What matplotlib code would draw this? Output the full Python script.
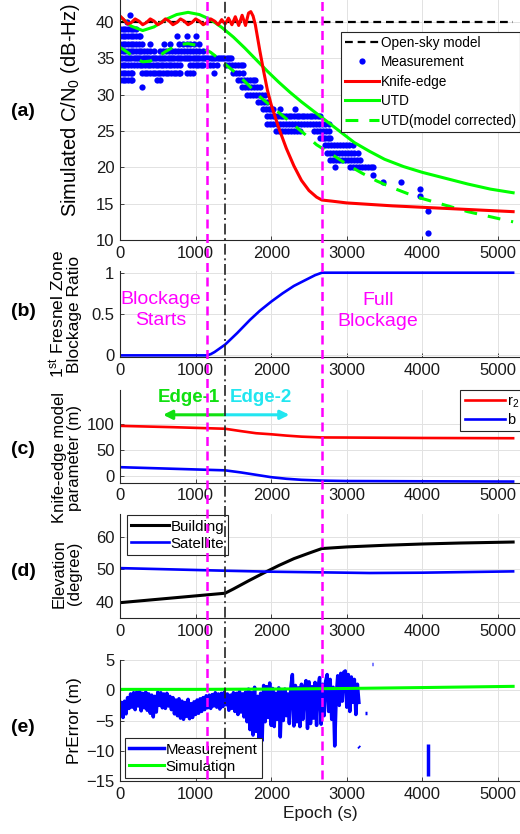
import numpy as np
import matplotlib
matplotlib.use("Agg")
import matplotlib.pyplot as plt
from matplotlib.lines import Line2D
from matplotlib.transforms import blended_transform_factory

plt.rcParams["font.family"] = ["Liberation Sans", "DejaVu Sans"]
plt.rcParams["mathtext.default"] = "regular"

# ---------------- data ----------------
epoch_ticks = [0, 1000, 2000, 3000, 4000, 5000]
blockage_start = 1150
edge_switch = 1390
full_blockage = 2670

# (a) C/N0
open_sky_epoch = [0, 5200]
open_sky_cn0 = [40, 40]

ke_epoch = [0, 50, 100, 150, 200, 250, 300, 350, 400, 450, 500, 550, 600, 650,
            700, 750, 800, 850, 900, 950, 1000, 1050, 1100, 1150, 1200, 1250, 1300,
            1345, 1390, 1435, 1480, 1525, 1570, 1615, 1660, 1700, 1730, 1760,
            1790, 1820, 1850, 1900, 1950, 2000, 2050, 2100,
            2200, 2300, 2400, 2500, 2600, 2670,
            2800, 3000, 3300, 3600, 4000, 4400, 4800, 5200]
ke_cn0 = [40.8, 40.3, 39.7, 39.9, 40.4, 40.1, 39.6, 39.9, 40.4, 40.1, 39.6, 39.9, 40.4, 40.1,
          39.6, 39.9, 40.4, 40.1, 39.6, 39.9, 40.4, 40.1, 39.6, 39.9, 40.4, 40.1, 39.6,
          40.3, 39.7, 40.5, 39.6, 40.7, 39.5, 40.9, 39.5, 41.2, 41.4, 40.8,
          39.6, 37.8, 36.0, 33.2, 30.6, 28.6, 27.0, 25.4,
          22.6, 20.2, 18.2, 16.8, 15.9, 15.5,
          15.35, 15.1, 14.9, 14.7, 14.5, 14.3, 14.1, 13.9]

utd_epoch = [0, 150, 300, 450, 600, 750, 900, 1050, 1200, 1350, 1500, 1650, 1800, 1950,
             2100, 2250, 2400, 2550, 2700, 2900, 3100, 3300, 3500, 3750, 4000, 4300,
             4600, 4900, 5200]
utd_cn0 = [40.7, 39.4, 38.8, 39.3, 40.3, 41.0, 41.3, 41.0, 40.3, 39.2, 37.9, 36.4, 34.8, 33.2,
           31.7, 30.3, 29.0, 27.8, 26.6, 25.0, 23.4, 22.2, 21.1, 20.1, 19.3, 18.5,
           17.7, 17.0, 16.5]

utdc_epoch = [0, 100, 200, 300, 400, 500, 600, 700, 800, 900, 1000, 1100, 1200, 1300, 1400,
              1550, 1700, 1850, 2000, 2150, 2300, 2450, 2600,
              2800, 3000, 3200, 3400, 3600, 3800, 4000, 4300, 4600, 4900, 5200]
utdc_cn0 = [36.5, 35.8, 35.0, 34.5, 34.6, 35.2, 35.9, 36.5, 36.9, 37.0, 36.8, 36.4, 35.8, 35.0, 34.1,
            32.8, 31.3, 29.7, 28.4, 27.1, 25.8, 24.5, 23.1,
            21.8, 20.4, 19.2, 18.1, 17.2, 16.4, 15.7, 14.8, 13.9, 13.2, 12.5]

# measured C/N0 (integer dB-Hz levels) -> epochs where a dot is seen
meas_levels = [41, 40, 39, 38, 37, 36, 35, 34, 33, 32, 31, 30, 29, 28, 27, 26, 25, 24,
               23, 22, 21, 20, 19, 18, 17, 16, 14, 11]
meas_epochs = [
    [130],
    [90],
    [0, 35, 70, 105, 140, 175, 210],
    [0, 35, 70, 105, 140, 175, 210, 245, 270, 750, 880, 1010],
    [0, 35, 70, 105, 140, 175, 210, 245, 290, 400, 580, 660, 780, 830, 880, 930, 980, 1040],
    [0, 35, 70, 105, 140, 175, 210, 245, 280, 320, 360, 400, 450, 530, 570, 610, 650, 690,
     730, 770, 810, 850, 890, 930, 970, 1010, 1050, 1100],
    [0, 30, 60, 90, 120, 150, 180, 210, 240, 270, 300, 330, 360, 390, 420, 450, 480, 510,
     540, 570, 600, 630, 660, 690, 720, 750, 780, 810, 840, 870, 900, 930, 960, 990, 1020,
     1050, 1080, 1110, 1140, 1170, 1200, 1230, 1260, 1290, 1320, 1350, 1380, 1410, 1440, 1470],
    [0, 35, 70, 105, 140, 180, 225, 260, 295, 330, 365, 400, 435, 470, 505, 540, 575, 610,
     645, 680, 715, 750, 800, 930, 965, 1000, 1035, 1070, 1100, 1190, 1230, 1280, 1400,
     1440, 1480, 1520, 1560, 1600, 1630],
    [0, 35, 70, 105, 140, 160, 290, 325, 360, 395, 430, 465, 500, 535, 570, 605, 640, 675,
     710, 745, 780, 800, 880, 920, 970, 1240, 1500, 1540, 1580, 1630],
    [0, 35, 70, 105, 140, 160, 490, 530, 1565, 1600, 1640, 1680, 1720, 1760, 1785],
    [290, 1610, 1650, 1690, 1730, 1770, 1810, 1850],
    [1675, 1715, 1755, 1795, 1835, 1875, 1917],
    [1830, 1870, 1905, 1940],
    [1896, 1930, 1965, 2000, 2028, 2116, 2315],
    [1950, 1985, 2020, 2055, 2090, 2125, 2160, 2195, 2230, 2265, 2300, 2335, 2370, 2405,
     2440, 2475, 2510, 2545, 2580, 2615, 2650],
    [1950, 1990, 2030, 2070, 2110, 2150, 2190, 2230, 2270, 2310, 2350, 2390, 2430, 2470,
     2510, 2550, 2590, 2630, 2670, 2710, 2760],
    [2060, 2100, 2140, 2180, 2220, 2260, 2300, 2340, 2380, 2560, 2600, 2640, 2680, 2720, 2770],
    [2645, 2680, 2715, 2750, 2778],
    [2712, 2750, 2790, 2830, 2870, 2910, 2950, 2990, 3030, 3086],
    [2734, 2775, 2815, 2855, 2895, 2935, 2975, 3015, 3055, 3095, 3153],
    [2778, 2820, 2860, 2900, 2940, 2980, 3020, 3060, 3100, 3140, 3175],
    [2844, 3042, 3080, 3120, 3160, 3200, 3240, 3280, 3320, 3351],
    [3351],
    [3483, 3712],
    [3968],
    [3968],
    [4070],
    [4070],
]

# (b) blockage ratio
ratio_epoch = [0, 1150, 1200, 1250, 1390, 1550, 1720, 1850, 2000, 2150, 2300, 2450, 2580, 2670, 5200]
ratio = [0, 0, 0.015, 0.04, 0.13, 0.27, 0.43, 0.54, 0.65, 0.75, 0.84, 0.91, 0.97, 1.0, 1.0]

# (c) knife-edge parameters
param_epoch = [0, 700, 1390, 1600, 1800, 2000, 2200, 2400, 2670, 3000, 4000, 5200]
r2 = [96, 93.5, 90.5, 86, 82, 80, 77.5, 75.5, 74, 73.8, 73, 72.5]
b_param = [17.5, 14.5, 11.5, 7.5, 3, -1.5, -4.5, -6.5, -8, -8.8, -9.3, -9.8]

# (d) elevation
bld_epoch = [0, 1390, 1500, 1700, 1900, 2100, 2300, 2500, 2670, 3000, 3500, 4000, 4500, 5200]
bld_elev = [39.8, 42.7, 44.0, 46.5, 48.9, 51.2, 53.3, 55.0, 56.4, 56.9, 57.4, 57.8, 58.1, 58.4]
sat_epoch = [0, 700, 1390, 2000, 2670, 3300, 4000, 4600, 5200]
sat_elev = [50.4, 50.0, 49.6, 49.3, 49.1, 48.9, 49.0, 49.2, 49.4]

# (e) pseudorange error, measurement sampled every 20 s up to 3160 s
pr_epoch = np.arange(0, 3161, 20)
pr_meas = [
    -3.8, -2.0, -4.5, -1.8, -3.9, -1.2, -3.0, -0.6, -2.8, -0.4,
    -3.2, -0.3, -2.6, -0.2, -3.4, -0.5, -2.9, -0.3, -3.3, -0.6,
    -3.8, -0.8, -4.4, -1.0, -3.6, -0.3, -2.5, -0.4, -2.9, -0.6,
    -3.0, -0.5, -2.6, -1.0, -3.2, -1.2, -3.9, -1.6, -4.2, -1.4,
    -4.6, -1.8, -4.8, -2.0, -4.3, -1.5, -4.7, -2.2, -4.5, -1.9,
    -4.0, -1.6, -3.8, -1.4, -3.5, -1.2, -3.2, -0.9, -2.9, -0.8,
    -3.0, -0.7, -2.6, -0.4, -2.8, -0.6, -3.1, -0.5, -2.7, -0.3,
    -2.4, -0.6, -3.3, -0.8, -3.0, -0.4, -3.5, -0.5, -4.0, -0.2,
    -3.6, -0.6, -4.4, -0.3, -5.2, 0.2, -6.5, -0.4, -7.4, 0.5,
    -6.8, -1.0, -7.9, -0.5, -8.3, 0.8, -5.2, 0.6, -4.5, 1.2,
    -5.8, 0.3, -6.0, -0.5, -4.8, 0.4, -7.7, -0.2, -5.0, 0.2,
    -4.2, -0.6, -5.5, 0.5, 2.6, -5.9, 0.8, -5.2, 0.4, -6.0,
    1.0, -4.8, 0.2, 1.6, -6.3, 1.4, -5.5, 0.6, -4.6, 1.3,
    -5.8, 0.5, 2.1, -5.6, 1.0, -4.2, 1.5, 2.6, -3.5, 1.8,
    -4.8, 0.5, -9.2, -1.0, 2.4, -2.5, 2.8, -1.8, 3.0, 3.2,
    -2.8, 2.6, -3.5, 2.2, -2.0, 1.8, -4.0, 1.0, -2.0,
]
# short isolated pieces of the measurement after the main run
pr_bits_epoch = [[3155, 3172], [3245, 3262], [3335, 3350], [4069, 4069]]
pr_bits_val = [[-9.3, -9.5], [-3.7, -3.7], [4.3, 4.3], [-8.8, -14.2]]

sim_epoch = [0, 1000, 2000, 3000, 4000, 5200]
sim_err = [0.15, 0.15, 0.2, 0.3, 0.45, 0.65]

# ---------------- figure ----------------
BLUE, RED, GREEN, MAG = "#0000FF", "#FF0000", "#00FF00", "#FF00FF"
AXC = "#262626"

fig = plt.figure(figsize=(5.2, 8.34), dpi=100)
left, width = 0.2308, 0.7705
ax_a = fig.add_axes([left, 0.7122, width, 0.2878])
ax_b = fig.add_axes([left, 0.5719, width, 0.1031])
ax_c = fig.add_axes([left, 0.4212, width, 0.1111])
ax_d = fig.add_axes([left, 0.2586, width, 0.1251])
ax_e = fig.add_axes([left, 0.0635, width, 0.1451])


def style(ax):
    ax.set_xlim(0, 5300)
    ax.set_xticks(epoch_ticks)
    ax.grid(True, color="#E2E2E2", lw=0.7)
    ax.set_axisbelow(True)
    for s in ("top", "right"):
        ax.spines[s].set_visible(False)
    for s in ("left", "bottom"):
        ax.spines[s].set_color(AXC)
        ax.spines[s].set_linewidth(0.8)
    ax.tick_params(direction="in", length=3, width=0.6, labelsize=12,
                   colors=AXC, labelcolor="#1A1A1A", pad=4)


def legend(ax, **kw):
    leg = ax.legend(frameon=True, fancybox=False, framealpha=1, edgecolor=AXC,
                    borderpad=0.3, handletextpad=0.1, borderaxespad=0, **kw)
    leg.get_frame().set_linewidth(0.8)
    return leg


# (a)
style(ax_a)
m_x, m_y = [], []
for lvl, eps in zip(meas_levels, meas_epochs):
    m_x += eps
    m_y += [lvl] * len(eps)
h_meas, = ax_a.plot(m_x, m_y, "o", color=BLUE, ms=4.5, mew=0, label="Measurement")
h_sky, = ax_a.plot(open_sky_epoch, open_sky_cn0, color="black", lw=1.6,
                   dashes=(3.5, 2.2), label="Open-sky model")
h_utd, = ax_a.plot(utd_epoch, utd_cn0, color=GREEN, lw=2.2, label="UTD")
h_utdc, = ax_a.plot(utdc_epoch, utdc_cn0, color=GREEN, lw=2.2, dashes=(4.2, 3.6),
                    label="UTD(model corrected)")
h_ke, = ax_a.plot(ke_epoch, ke_cn0, color=RED, lw=2.2, label="Knife-edge")
ax_a.set_ylim(10, 43)
ax_a.set_yticks([10, 15, 20, 25, 30, 35, 40])
ax_a.set_ylabel("Simulated C/N$_0$ (dB-Hz)", fontsize=14.5)
ax_a.yaxis.set_label_coords(-0.095, 0.54)
legend(ax_a, handles=[h_sky, h_meas, h_ke, h_utd, h_utdc], loc="upper right",
       bbox_to_anchor=(0.998, 0.868), fontsize=9.8, handlelength=2.5, labelspacing=0.4)

# (b)
style(ax_b)
ax_b.plot(ratio_epoch, ratio, color=BLUE, lw=1.9)
ax_b.set_ylim(-0.02, 1.02)
ax_b.set_yticks([0, 0.5, 1])
ax_b.set_yticklabels(["0", "0.5", "1"])
ax_b.set_ylabel("1$^{st}$ Fresnel Zone\nBlockage Ratio", fontsize=12.5, linespacing=1.0)
ax_b.yaxis.set_label_coords(-0.095, 0.5)
ax_b.text(540, 0.545, "Blockage\nStarts", color=MAG, fontsize=14, ha="center",
          va="center", linespacing=1.3)
ax_b.text(3414, 0.535, "Full\nBlockage", color=MAG, fontsize=14, ha="center",
          va="center", linespacing=1.3)

# (c)
style(ax_c)
ax_c.plot(param_epoch, r2, color=RED, lw=1.9, label="r$_2$")
ax_c.plot(param_epoch, b_param, color=BLUE, lw=1.9, label="b")
ax_c.set_ylim(-12, 164)
ax_c.set_yticks([0, 50, 100])
ax_c.set_ylabel("Knife-edge model\nparameter (m)", fontsize=12, linespacing=1.0)
ax_c.yaxis.set_label_coords(-0.095, 0.27)
legend(ax_c, loc="upper left", bbox_to_anchor=(0.849, 1.0), fontsize=10.5,
       handlelength=2.8, labelspacing=0.2)
ax_c.annotate("", xy=(570, 117), xytext=(edge_switch, 117),
              arrowprops=dict(arrowstyle="-|>", color="#11E011", lw=2.2,
                              mutation_scale=13, shrinkA=0, shrinkB=0))
ax_c.annotate("", xy=(2240, 117), xytext=(edge_switch, 117),
              arrowprops=dict(arrowstyle="-|>", color="#22E6F0", lw=2.2,
                              mutation_scale=13, shrinkA=0, shrinkB=0))
ax_c.text(914, 150, "Edge-1", color="#11E011", fontsize=13.5, fontweight="bold",
          ha="center", va="center")
ax_c.text(1865, 150, "Edge-2", color="#22E6F0", fontsize=13.5, fontweight="bold",
          ha="center", va="center")

# (d)
style(ax_d)
ax_d.plot(bld_epoch, bld_elev, color="black", lw=2.2, label="Building")
ax_d.plot(sat_epoch, sat_elev, color=BLUE, lw=1.9, label="Satellite")
ax_d.set_ylim(35, 67)
ax_d.set_yticks([40, 50, 60])
ax_d.set_ylabel("Elevation\n(degree)", fontsize=12, linespacing=1.0)
ax_d.yaxis.set_label_coords(-0.095, 0.43)
legend(ax_d, loc="upper left", bbox_to_anchor=(0.017, 0.99), fontsize=10.8,
       handlelength=2.5, labelspacing=0.2)

# (e)
style(ax_e)
ax_e.plot(pr_epoch, pr_meas, color=BLUE, lw=2.5, label="Measurement")
for ex, ev in zip(pr_bits_epoch, pr_bits_val):
    ax_e.plot(ex, ev, color=BLUE, lw=2.5, solid_capstyle="butt")
ax_e.plot(sim_epoch, sim_err, color=GREEN, lw=2.2, label="Simulation")
ax_e.set_ylim(-15, 5)
ax_e.set_yticks([-15, -10, -5, 0, 5])
ax_e.set_ylabel("PrError (m)", fontsize=12.5)
ax_e.yaxis.set_label_coords(-0.095, 0.5)
ax_e.set_xlabel("Epoch (s)", fontsize=12.5, color="#1A1A1A", labelpad=3)
h_e = [l for l in ax_e.get_lines() if l.get_label() in ("Measurement", "Simulation")]
legend(ax_e, handles=h_e, loc="lower left", bbox_to_anchor=(0.012, 0.025),
       fontsize=10.8, handlelength=2.3, labelspacing=0.2)

# vertical event markers spanning all panels
trans = blended_transform_factory(ax_e.transData, fig.transFigure)
y_low = 1 - 779 / 834
for xv, col, lw, ls in [(blockage_start, MAG, 1.8, (0, (3.6, 2.2))),
                        (full_blockage, MAG, 1.8, (0, (3.6, 2.2))),
                        (edge_switch, "#222222", 1.2, (0, (6.5, 2.2, 1.2, 2.2)))]:
    fig.add_artist(Line2D([xv, xv], [y_low, 1.0], transform=trans, color=col,
                          lw=lw, linestyle=ls, zorder=10))

# panel tags
for tag, ypx in [("(a)", 112), ("(b)", 312), ("(c)", 450), ("(d)", 572), ("(e)", 728)]:
    fig.text(23 / 520, 1 - ypx / 834, tag, fontsize=14, fontweight="bold",
             ha="center", va="center")

fig.savefig("out.png", dpi=100)
